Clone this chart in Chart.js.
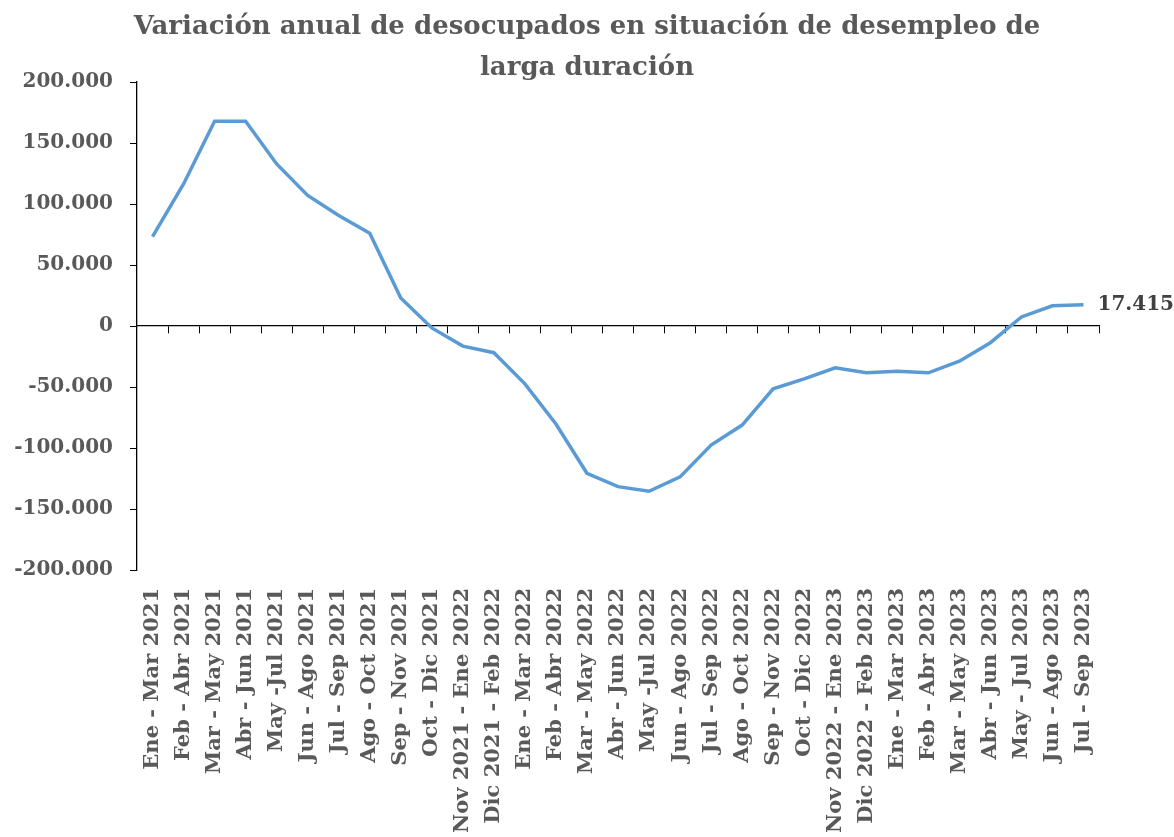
<!DOCTYPE html>
<html lang="es">
<head>
<meta charset="utf-8">
<title>Variación anual de desocupados</title>
<script src="https://cdn.jsdelivr.net/npm/chart.js@4.4.0/dist/chart.umd.min.js"></script>
<style>
  html, body { margin: 0; padding: 0; background: #ffffff; }
  #wrap { width: 1174px; height: 837px; position: relative; }
</style>
</head>
<body>
<div id="wrap"><canvas id="lineChart"></canvas></div>
<script>
// Periodos trimestrales móviles
const periodos = [
    'Ene - Mar 2021', 'Feb - Abr 2021', 'Mar - May 2021', 'Abr - Jun 2021', 'May -Jul 2021',
    'Jun - Ago 2021', 'Jul - Sep 2021', 'Ago - Oct 2021', 'Sep - Nov 2021', 'Oct - Dic 2021',
    'Nov 2021 - Ene 2022', 'Dic 2021 - Feb 2022', 'Ene - Mar 2022', 'Feb - Abr 2022', 'Mar - May 2022',
    'Abr - Jun 2022', 'May -Jul 2022', 'Jun - Ago 2022', 'Jul - Sep 2022', 'Ago - Oct 2022',
    'Sep - Nov 2022', 'Oct - Dic 2022', 'Nov 2022 - Ene 2023', 'Dic 2022 - Feb 2023', 'Ene - Mar 2023',
    'Feb - Abr 2023', 'Mar - May 2023', 'Abr - Jun 2023', 'May - Jul 2023', 'Jun - Ago 2023',
    'Jul - Sep 2023'
];

// Variación anual (personas)
const variacion = [
    73300, 116400, 167900, 167900, 132800,
    107000, 90500, 76000, 23000, -1600,
    -16500, -21900, -47400, -80300, -120700,
    -131700, -135500, -123700, -97600, -81200,
    -51500, -43300, -34300, -38400, -37000,
    -38400, -28800, -13700, 7400, 16600,
    17415
];

const yMin = -200000;
const yMax = 200000;
const yStep = 50000;

const tituloLineas = ['Variación anual de desocupados en situación de desempleo de', 'larga duración'];

const grisTexto = '#595959';
const serif = "'DejaVu Serif', serif";

const fmt = v => v.toLocaleString('de-DE');

// Etiqueta con el último valor
const lastLabel = {
    id: 'lastLabel',
    afterDatasetsDraw(chart) {
        const meta = chart.getDatasetMeta(0);
        const pt = meta.data[meta.data.length - 1];
        const ctx = chart.ctx;
        ctx.save();
        ctx.font = 'bold 20px ' + serif;
        ctx.fillStyle = '#404040';
        ctx.textAlign = 'left';
        ctx.textBaseline = 'middle';
        ctx.fillText(fmt(variacion[variacion.length - 1]), pt.x + 14, pt.y);
        ctx.restore();
    }
};

function initChart() {
    const ctx = document.getElementById('lineChart').getContext('2d');
    new Chart(ctx, {
        type: 'line',
        data: {
            labels: periodos,
            datasets: [{
                label: 'Variación anual',
                data: variacion,
                borderColor: '#5B9BD5',
                borderWidth: 3.5,
                pointRadius: 0,
                tension: 0,
                fill: false,
                xAxisID: 'x',
                yAxisID: 'y'
            }]
        },
        options: {
            responsive: true,
            maintainAspectRatio: false,
            animation: false,
            layout: { padding: 0 },
            plugins: {
                legend: { display: false },
                tooltip: { enabled: false },
                title: {
                    display: true,
                    text: tituloLineas,
                    color: grisTexto,
                    font: { family: serif, size: 26, weight: 'bold', lineHeight: 1.577 },
                    padding: { top: 7, bottom: -7 }
                }
            },
            scales: {
                x: {
                    type: 'category',
                    position: 'bottom',
                    offset: true,
                    border: { display: false },
                    grid: { display: false, drawTicks: false },
                    ticks: {
                        autoSkip: false,
                        maxRotation: 90,
                        minRotation: 90,
                        padding: 18,
                        color: grisTexto,
                        font: { family: serif, size: 21, weight: 'bold' }
                    },
                    afterFit(scale) { scale.height = 267; }
                },
                x0: {
                    type: 'category',
                    axis: 'x',
                    position: { y: 0 },
                    offset: true,
                    border: { display: true, color: '#000000', width: 1.3 },
                    grid: {
                        display: true,
                        offset: true,
                        drawOnChartArea: false,
                        drawTicks: true,
                        tickLength: 7,
                        color: '#000000'
                    },
                    ticks: { display: false }
                },
                y: {
                    min: yMin,
                    max: yMax,
                    border: { display: true, color: '#000000', width: 1.3 },
                    grid: {
                        drawOnChartArea: false,
                        drawTicks: true,
                        tickLength: 7,
                        color: '#000000'
                    },
                    ticks: {
                        stepSize: yStep,
                        padding: 17,
                        color: grisTexto,
                        font: { family: serif, size: 20, weight: 'bold' },
                        callback: v => fmt(v)
                    },
                    afterFit(scale) { scale.width = 137; }
                },
                // espacio a la derecha para la etiqueta del último valor
                yR: {
                    type: 'linear',
                    axis: 'y',
                    position: 'right',
                    min: yMin,
                    max: yMax,
                    border: { display: false },
                    grid: { display: false },
                    ticks: { display: false },
                    afterFit(scale) { scale.width = 75; }
                }
            }
        },
        plugins: [lastLabel]
    });
}

window.onload = () => {
    initChart();
};
</script>
</body>
</html>
